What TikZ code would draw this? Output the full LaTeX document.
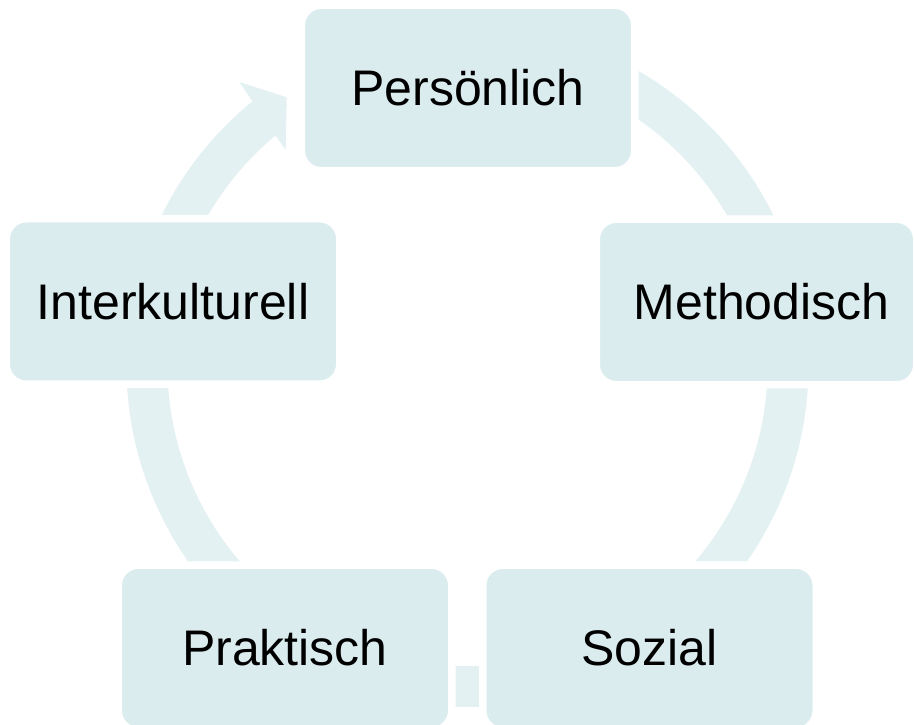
\documentclass[tikz,border=0pt]{standalone}
\usepackage{fontspec}
\setmainfont{Liberation Sans}
\usetikzlibrary{calc}
\definecolor{boxc}{RGB}{218,236,238}
\definecolor{arcc}{RGB}{228,241,243}
\begin{document}
\begin{tikzpicture}[x=1pt,y=1pt,
  box/.style={fill=boxc, draw=white, line width=7.5pt, rounded corners=20pt,
    minimum width=333.5pt, minimum height=165.5pt, inner sep=0pt,
    font=\fontsize{50pt}{60pt}\selectfont, text=black},
  band/.style={fill=arcc}]
\useasboundingbox (0,0) rectangle (914,725);
\clip (0,0) rectangle (914,725);
\coordinate (C) at (467.5,359);
% connectors (drawn first, cut by the white border of the boxes)
\fill[band] ($(C)+(75:341pt)$) arc[start angle=75, end angle=15, radius=341pt]
  -- ($(C)+(15:300pt)$) arc[start angle=15, end angle=75, radius=300pt] -- cycle;
\fill[band] ($(C)+(10:341pt)$) arc[start angle=10, end angle=-65, radius=341pt]
  -- ($(C)+(-65:300pt)$) arc[start angle=-65, end angle=10, radius=300pt] -- cycle;
\fill[band] ($(C)+(-60:341pt)$) arc[start angle=-60, end angle=-120, radius=341pt]
  -- ($(C)+(-120:300pt)$) arc[start angle=-120, end angle=-60, radius=300pt] -- cycle;
\fill[band] ($(C)+(-115:341pt)$) arc[start angle=-115, end angle=-190, radius=341pt]
  -- ($(C)+(-190:300pt)$) arc[start angle=-190, end angle=-115, radius=300pt] -- cycle;
\fill[band] ($(C)+(170:341pt)$) arc[start angle=170, end angle=129.1, radius=341pt]
  -- (239.3,643) -- (286.7,627.7) -- (285.7,575)
  -- ($(C)+(129.8:300pt)$) arc[start angle=129.8, end angle=170, radius=300pt] -- cycle;
% boxes
\node[box] (pers) at (468,637) {Persönlich};
\node[box] (inter) at (173,423.5) {Interkulturell};
\node[box, minimum width=320.5pt] (meth) at (756.5,423) {\hspace*{10pt}Methodisch};
\node[box] (prak) at (285,77) {Praktisch};
\node[box] (soz) at (649.5,77) {Sozial};
\end{tikzpicture}
\end{document}
